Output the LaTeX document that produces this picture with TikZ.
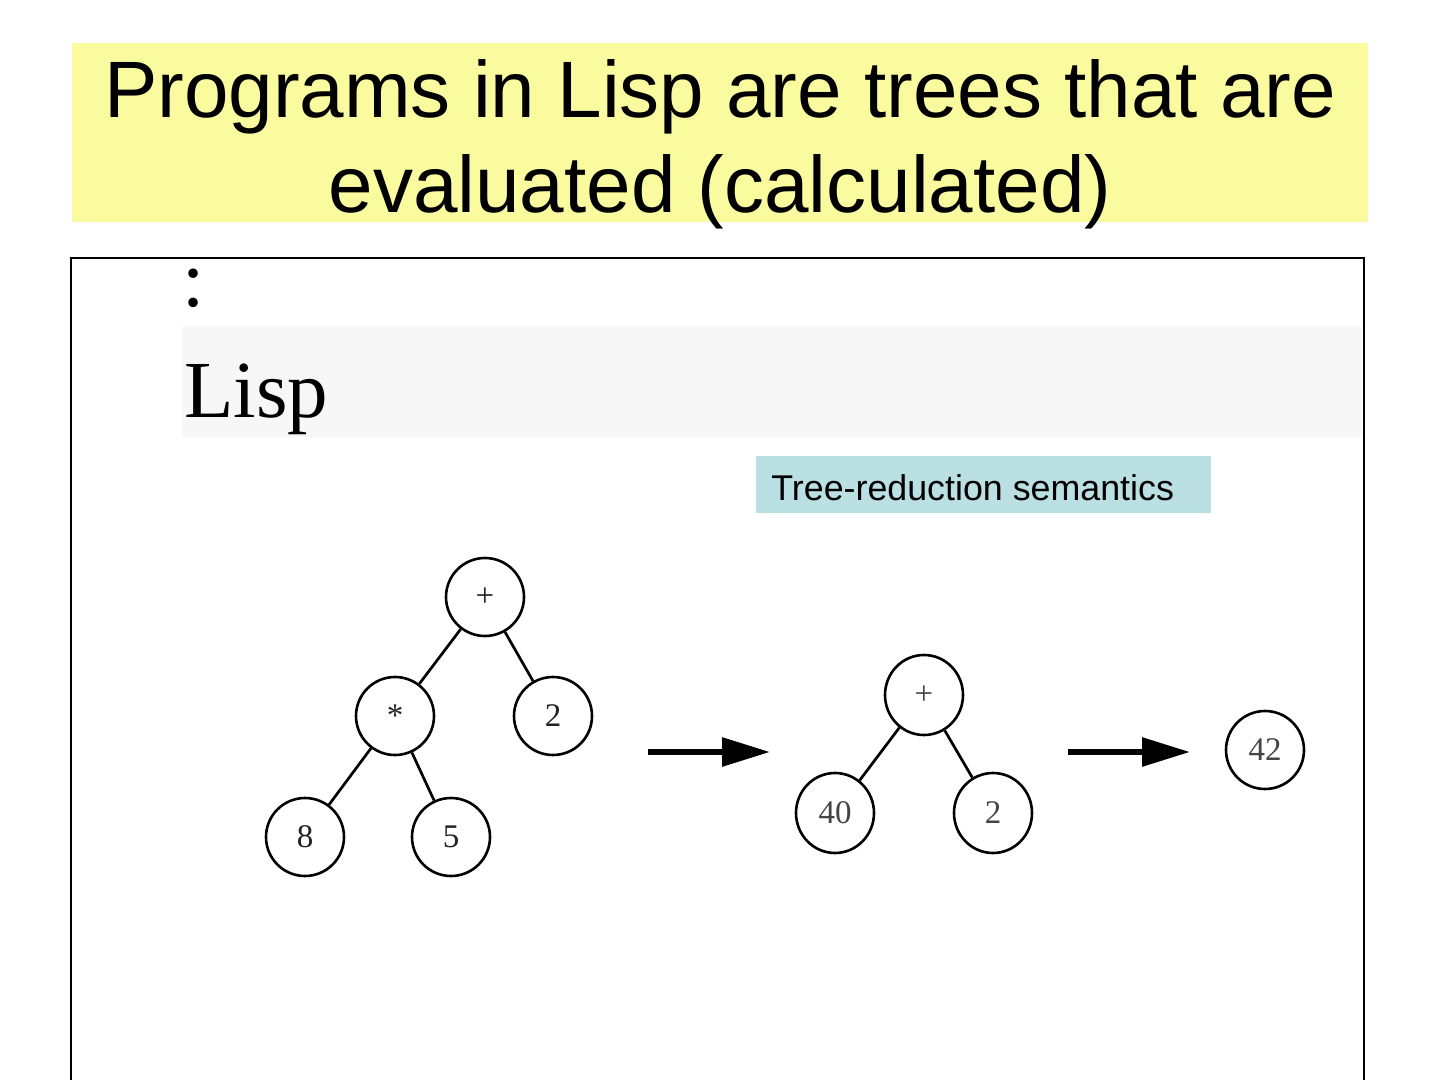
\documentclass[tikz,border=0pt]{standalone}
\usepackage{fontspec}
\setmainfont{Liberation Serif}
\newfontfamily\arialf{Liberation Sans}
\usetikzlibrary{arrows.meta,shapes.geometric}
\definecolor{titlebg}{HTML}{FAFA9E}
\definecolor{lispbg}{HTML}{F7F7F7}
\definecolor{notebg}{HTML}{BBE0E3}
\definecolor{nodetext}{HTML}{222222}
\definecolor{nodetextb}{HTML}{444444}
\tikzset{
  treenode/.style={circle, draw=black, line width=1.3pt, minimum size=39pt, inner sep=0pt,
    font=\fontsize{16.5}{16.5}\selectfont, text=nodetext},
  treenodeb/.style={treenode, ellipse, minimum width=39pt, minimum height=40pt, text=nodetextb},
  treeedge/.style={line width=1.35pt, black},
  bigarrow/.style={line width=3pt, -{Triangle[length=24pt,width=14pt]}}
}
\begin{document}
\begin{tikzpicture}[x=0.5pt,y=-0.5pt]
\useasboundingbox (0,0) rectangle (1440,1080);
\fill[white] (0,0) rectangle (1440,1080);
% title band
\fill[titlebg] (72,43) rectangle (1368,222);
\node[anchor=base, font=\arialf\fontsize{40}{47.5}\selectfont] (t1) at (720,118) {Programs in Lisp are trees that are};
\node[anchor=base, font=\arialf\fontsize{40}{47.5}\selectfont] (t2) at (720,213) {evaluated (calculated)};
% frame
\draw[line width=1.1pt] (71,1100) -- (71,258) -- (1364,258) -- (1364,1100);
% colon and Lisp heading
\node[anchor=base west, inner sep=0pt, font=\fontsize{40}{40}\selectfont] (colon) at (182,307) {:};
\fill[lispbg] (182,326) rectangle (1362,437);
\node[anchor=base west, inner sep=0pt, font=\fontsize{40.5}{40.5}\selectfont] (lisp) at (184,418) {Lisp};
% note box
\fill[notebg] (756,456) rectangle (1211,513);
\node[anchor=base west, inner sep=0pt, font=\arialf\fontsize{17.9}{17.9}\selectfont] (note) at (771,500) {Tree-reduction semantics};
% tree 1
\node[treenode] (p1) at (485,597) {+};
\node[treenode] (m1) at (395,716) {*};
\node[treenode] (two1) at (553,716) {2};
\node[treenode] (eight) at (305,837) {8};
\node[treenode] (five) at (451,837) {5};
\draw[treeedge] (p1) -- (m1);
\draw[treeedge] (p1) -- (two1);
\draw[treeedge] (m1) -- (eight);
\draw[treeedge] (m1) -- (five);
% arrow 1
\coordinate (a1s) at (648,752);
\coordinate (a1e) at (770,752);
\draw[bigarrow] (a1s) -- (a1e);
% tree 2
\node[treenodeb] (p2) at (924,695) {+};
\node[treenodeb] (forty) at (835,813) {40};
\node[treenodeb] (two2) at (993,813) {2};
\draw[treeedge] (p2) -- (forty);
\draw[treeedge] (p2) -- (two2);
% arrow 2
\coordinate (a2s) at (1068,752);
\coordinate (a2e) at (1190,752);
\draw[bigarrow] (a2s) -- (a2e);
% result
\node[treenodeb, minimum height=39pt] (res) at (1265,750) {42};
\end{tikzpicture}
\end{document}
